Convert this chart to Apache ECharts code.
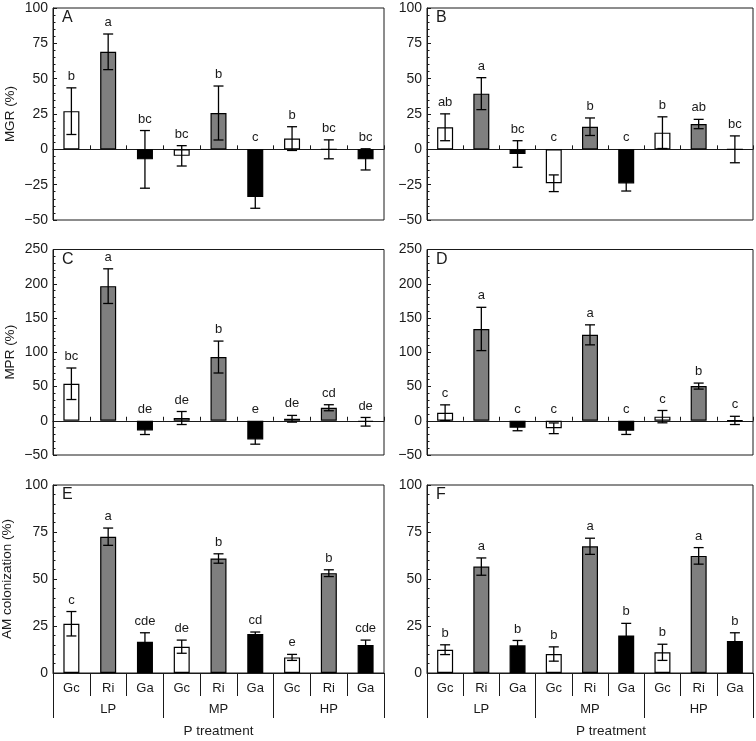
<!DOCTYPE html>
<html><head><meta charset="utf-8">
<script src="https://cdn.jsdelivr.net/npm/echarts@6/dist/echarts.min.js"></script>
<style>html,body{margin:0;padding:0;background:#fff}#c{width:756px;height:741px}</style>
</head><body><div id="c"></div>
<script>
// ---------- data ----------
const categories = ['Gc','Ri','Ga','Gc','Ri','Ga','Gc','Ri','Ga'];
const pLevels = ['LP','MP','HP'];
const fungi = ['Gc','Ri','Ga'];

const mgrA = [27, 69, -7.1, -4.6, 25.7, -33.7, 7.6, 0, -7.1];
const mgrAErr = [16.5, 12.6, 20.4, 7.2, 19.1, 8, 8.4, 6.7, 7.5];
const mgrALetters = ['b','a','bc','bc','b','c','b','bc','bc'];

const mgrB = [15.6, 39.4, -3.3, -24, 16, -24.1, 11.8, 17.9, 0];
const mgrBErr = [9.5, 11.3, 9.4, 5.9, 6.2, 5.4, 11.2, 3.3, 9.5];
const mgrBLetters = ['ab','a','bc','c','b','c','b','ab','bc'];

const mprC = [54, 196.5, -14.1, 4, 93, -27.2, 2.9, 19, -1.5];
const mprCErr = [23, 25.3, 6, 9.5, 23.3, 7, 4.9, 4.4, 6.3];
const mprCLetters = ['bc','a','de','de','b','e','de','cd','de'];

const mprD = [11.7, 134, -10.2, -11, 125.4, -14.6, 6, 50.6, 0.5];
const mprDErr = [11.5, 31.6, 4.4, 7.8, 14.6, 5.4, 9, 4.4, 6];
const mprDLetters = ['c','a','c','c','a','c','c','b','c'];

const colE = [26.2, 72.5, 16.6, 14, 60.9, 20.7, 8.3, 53.1, 14.9];
const colEErr = [6.5, 4.6, 4.8, 3.5, 2.5, 1.1, 1.6, 1.8, 2.6];
const colELetters = ['c','a','cde','de','b','cd','e','b','cde'];

const colF = [12.4, 56.6, 14.7, 10.1, 67.4, 20, 11, 62.3, 17];
const colFErr = [2.6, 4.6, 2.6, 3.8, 4.3, 6.4, 4.3, 4.4, 4.4];
const colFLetters = ['b','a','b','b','a','b','b','a','b'];

const yTicksMGR = {min: -50, max: 100, interval: 25};
const yTicksMPR = {min: -50, max: 250, interval: 50};
const yTicksCol = {min: 0, max: 100, interval: 25};

// ---------- styling ----------
const FONT = 'Liberation Sans, Arial, Helvetica, sans-serif';
const INK = '#1a1a1a';
const fillByFungus = {Gc: '#ffffff', Ri: '#7f7f7f', Ga: '#000000'};

const panels = [
  {id:'A', vals: mgrA, errs: mgrAErr, letters: mgrALetters, y: yTicksMGR, name: 'MGR (%)', bottom: false,
   grid: {left: 53, top: 8, width: 331, height: 212}},
  {id:'B', vals: mgrB, errs: mgrBErr, letters: mgrBLetters, y: yTicksMGR, name: '', bottom: false,
   grid: {left: 427, top: 8, width: 326, height: 212}},
  {id:'C', vals: mprC, errs: mprCErr, letters: mprCLetters, y: yTicksMPR, name: 'MPR (%)', bottom: false,
   grid: {left: 53, top: 249.5, width: 331, height: 205.5}},
  {id:'D', vals: mprD, errs: mprDErr, letters: mprDLetters, y: yTicksMPR, name: '', bottom: false,
   grid: {left: 427, top: 249.5, width: 326, height: 205.5}},
  {id:'E', vals: colE, errs: colEErr, letters: colELetters, y: yTicksCol, name: 'AM colonization (%)', bottom: true,
   grid: {left: 53, top: 485, width: 331, height: 188}},
  {id:'F', vals: colF, errs: colFErr, letters: colFLetters, y: yTicksCol, name: '', bottom: true, shiftName: true,
   grid: {left: 427, top: 485, width: 326, height: 188}}
];

const grid = [], xAxis = [], yAxis = [], series = [], title = [];

function minusFmt(v){ return v < 0 ? '\u2212' + Math.abs(v) : String(v); }

function errRenderer(letters){
  return function(params, api){
    const i = api.value(0), v = api.value(1), e = api.value(2);
    const x = api.coord([i, v])[0];
    const yHi = api.coord([i, v + e])[1];
    const yLo = api.coord([i, v - e])[1];
    const yTop = api.coord([i, Math.max(v + e, 0)])[1];
    const cap = 5;
    const ls = {stroke: '#000', lineWidth: 1.3};
    return {type: 'group', children: [
      {type: 'line', shape: {x1: x, y1: yHi, x2: x, y2: yLo}, style: ls},
      {type: 'line', shape: {x1: x - cap, y1: yHi, x2: x + cap, y2: yHi}, style: ls},
      {type: 'line', shape: {x1: x - cap, y1: yLo, x2: x + cap, y2: yLo}, style: ls},
      {type: 'text', x: x, y: yTop - 5, style: {text: letters[params.dataIndex], align: 'center', verticalAlign: 'bottom',
        font: '13px ' + FONT, fill: INK}}
    ]};
  };
}

panels.forEach((p, gi) => {
  grid.push(Object.assign({show: true, borderColor: INK, borderWidth: 1, backgroundColor: 'transparent',
    containLabel: false, outerBoundsMode: 'none'}, p.grid));
  title.push({text: p.id, left: p.grid.left + 9, top: p.grid.top + 2, padding: 0,
    textStyle: {fontSize: 16, fontWeight: 'normal', color: INK, fontFamily: FONT}});

  const xi = xAxis.length;
  if (!p.bottom) {
    xAxis.push({type: 'category', gridIndex: gi, data: categories,
      axisLine: {show: true, onZero: true, lineStyle: {color: INK, width: 1}},
      axisTick: {show: true, inside: true, length: 4, interval: 0, lineStyle: {color: INK}},
      axisLabel: {show: false}, splitLine: {show: false}});
  } else {
    xAxis.push({type: 'category', gridIndex: gi, data: categories, position: 'bottom',
      axisLine: {show: true, onZero: false, lineStyle: {color: INK, width: 1}},
      axisTick: {show: true, inside: false, length: 23, interval: 0, lineStyle: {color: INK}},
      axisLabel: {show: true, margin: 9, interval: 0, fontSize: 13, color: INK, fontFamily: FONT},
      splitLine: {show: false}});
    xAxis.push({type: 'category', gridIndex: gi, data: pLevels, position: 'bottom',
      axisLine: {show: false, onZero: false},
      axisTick: {show: true, inside: false, length: 45, interval: 0, lineStyle: {color: INK}},
      axisLabel: {show: true, margin: 30, interval: 0, fontSize: 13, color: INK, fontFamily: FONT},
      splitLine: {show: false},
      name: 'P treatment', nameLocation: 'middle', nameGap: 51,
      nameTextStyle: {fontSize: 13.5, color: INK, fontFamily: FONT, padding: p.shiftName ? [0, 0, 0, 42] : 0}});
  }
  yAxis.push({type: 'value', gridIndex: gi, min: p.y.min, max: p.y.max, interval: p.y.interval,
    axisLine: {show: true, onZero: false, lineStyle: {color: INK, width: 1}},
    axisTick: {show: true, inside: true, length: 4, lineStyle: {color: INK}},
    minorTick: {show: true, splitNumber: 5, length: 2.5, lineStyle: {color: INK}},
    axisLabel: {show: true, margin: 5, fontSize: 14, color: INK, fontFamily: FONT, formatter: minusFmt},
    splitLine: {show: false},
    name: p.name, nameLocation: 'middle', nameGap: p.bottom ? 39 : 36, nameRotate: 90,
    nameTextStyle: {fontSize: 13.5, color: INK, fontFamily: FONT}});

  series.push({type: 'bar', xAxisIndex: xi, yAxisIndex: gi, barWidth: 16, silent: true,
    data: p.vals.map((v, i) => ({value: v, itemStyle: {color: fillByFungus[categories[i]]}})),
    itemStyle: {borderColor: '#000', borderWidth: 1.2}});
  series.push({type: 'custom', xAxisIndex: xi, yAxisIndex: gi, silent: true, clip: false,
    encode: {x: 0, y: 1},
    data: p.vals.map((v, i) => [i, v, p.errs[i]]),
    renderItem: errRenderer(p.letters), z: 5});
});

const chart = echarts.init(document.getElementById('c'), null, {renderer: 'canvas'});
chart.setOption({animation: false, backgroundColor: '#ffffff', textStyle: {fontFamily: FONT},
  title, grid, xAxis, yAxis, series});
</script></body></html>
